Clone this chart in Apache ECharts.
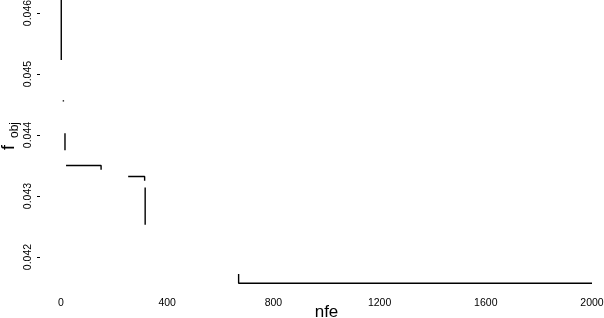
<!DOCTYPE html>
<html>
<head>
<meta charset="utf-8">
<script src="https://cdn.jsdelivr.net/npm/echarts@6/dist/echarts.min.js"></script>
<style>
html,body{margin:0;padding:0;background:#fff;}
#chart{width:604px;height:318px;}
</style>
</head>
<body>
<div id="chart"></div>
<script>
// Convergence trace (step segments, '-' = gap)
var nfe  = [1, 1, '-', 9, 9, '-', 15, 15, '-', 19, 151, 151, '-', 253, 315, 315, '-', 317, 317, '-', 669, 669, 2000];
var fobj = [0.0465, 0.04523, '-', 0.04457, 0.04455, '-', 0.04403, 0.04375, '-', 0.04350, 0.04350, 0.04343, '-', 0.04332, 0.04332, 0.04325, '-', 0.04314, 0.04253, '-', 0.04172, 0.04157, 0.04157];
var xTicks = [0, 400, 800, 1200, 1600, 2000];
var yTicks = [0.042, 0.043, 0.044, 0.045, 0.046];

var data = nfe.map(function (x, i) {
  return (x === '-' || fobj[i] === '-') ? [x === '-' ? null : x, '-'] : [x, fobj[i]];
});

var FONT = 'Liberation Sans, Arial, sans-serif';
var yFmt = function (v) {
  var r = Math.round(v * 1000) / 1000;
  return yTicks.indexOf(r) >= 0 ? r.toFixed(3) : '';
};
var chart = echarts.init(document.getElementById('chart'), null, {renderer: 'canvas'});
chart.setOption({
  animation: false,
  backgroundColor: '#fff',
  grid: [
    {left: 61, right: 12, top: -48, bottom: 0, containLabel: false, outerBoundsMode: 'none'},
    {left: 40, width: 1, top: -48, bottom: 0, containLabel: false, outerBoundsMode: 'none'}
  ],
  xAxis: [{
    gridIndex: 0,
    type: 'value', min: 0, max: 2000, interval: 400,
    offset: -28,
    axisLine: {show: false}, axisTick: {show: false}, splitLine: {show: false},
    axisLabel: {color: '#000', fontSize: 10.5, fontFamily: FONT, margin: 8,
      formatter: function (v) { return xTicks.indexOf(v) >= 0 ? String(v) : ''; }},
    name: 'nfe', nameLocation: 'middle', nameGap: 14, nameMoveOverlap: false,
    nameTextStyle: {color: '#000', fontSize: 17, fontFamily: FONT}
  }, {
    gridIndex: 1, type: 'value', min: 0, max: 1, show: false
  }],
  yAxis: [{
    gridIndex: 0,
    type: 'value', min: 0.041, max: 0.047, interval: 0.001,
    axisLine: {show: false}, axisTick: {show: false}, axisLabel: {show: false},
    splitLine: {show: false}
  }, {
    gridIndex: 1,
    type: 'value', min: 0.041, max: 0.047, interval: 0.001,
    axisLine: {show: false},
    axisTick: {show: true, length: 3, lineStyle: {color: '#000', width: 1}},
    splitLine: {show: false},
    axisLabel: {color: '#000', fontSize: 10.5, fontFamily: FONT, rotate: 90, margin: 6,
      showMinLabel: false, showMaxLabel: false, formatter: yFmt}
  }],
  graphic: [{
    type: 'group', x: 18, y: 150, rotation: Math.PI / 2,
    children: [
      {type: 'text', x: 0, y: 0, style: {text: 'f', font: '18px ' + FONT, fill: '#000', verticalAlign: 'bottom'}},
      {type: 'text', x: 12, y: 3, style: {text: 'obj', font: '12px ' + FONT, fill: '#000', verticalAlign: 'bottom'}}
    ]
  }],
  series: [{
    type: 'line', xAxisIndex: 0, yAxisIndex: 0,
    data: data, showSymbol: false, symbol: 'none',
    connectNulls: false, clip: true,
    lineStyle: {color: '#000', width: 1.4}
  }]
});
</script>
</body>
</html>
